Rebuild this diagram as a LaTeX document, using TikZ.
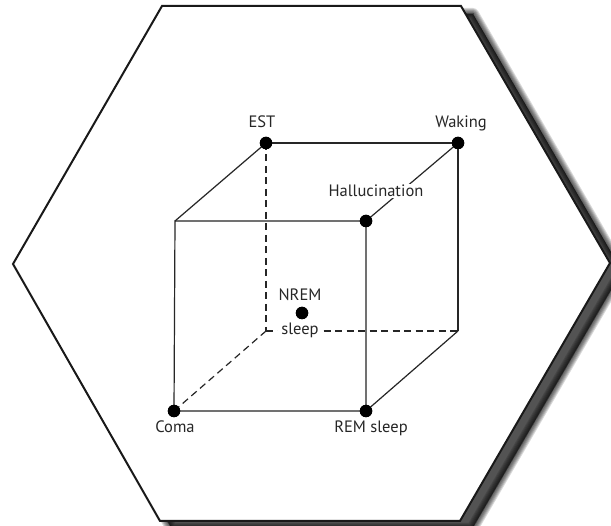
\documentclass[tikz,border=0pt]{standalone}
\usepackage{fontspec}
\setmainfont{PT Sans}
\begin{document}
\begin{tikzpicture}[x=1pt,y=-1pt,
  edge/.style={draw=black!85, line width=1.2pt},
  hidden/.style={edge, dash pattern=on 7pt off 4.5pt},
  dot/.style={circle, fill=black, inner sep=0pt, minimum size=12.5pt},
  lab/.style={text=black!85, font=\fontsize{16.5}{19}\selectfont, anchor=base, inner sep=1pt}]
\useasboundingbox (0,0) rectangle (611,526);

% hexagon outline
\def\hexpath{(162,6) -- (461,6) -- (610,263) -- (460,521) -- (160,521) -- (13,264) -- cycle}

% soft drop shadow, built from stacked translucent layers
\begin{scope}[shift={(12,8)}]
  \foreach \r in {12,10,...,0}
    \filldraw[black, opacity=0.15, line width=\r pt, line join=round] \hexpath;
\end{scope}

% hexagon frame
\filldraw[fill=white, draw=black!90, line width=2pt, line join=miter] \hexpath;

% cube corners
\coordinate (ftl) at (175,221);
\coordinate (bbr) at (458,331);
\coordinate (bbl) at (266,331);
\node[dot] (est)  at (266,143) {};
\node[dot] (wak)  at (458,143) {};
\node[dot] (hal)  at (366,221) {};
\node[dot] (coma) at (174,411) {};
\node[dot] (rem)  at (366,411) {};
\node[dot] (nrem) at (302,313) {};

% hidden edges
\draw[hidden] (est.center) -- (bbl);
\draw[hidden] (bbl) -- (bbr);
\draw[hidden] (coma.center) -- (bbl);

% visible edges
\draw[edge] (ftl) -- (hal.center) -- (rem.center) -- (coma.center) -- cycle;
\draw[edge] (est.center) -- (wak.center) -- (bbr);
\draw[edge] (ftl) -- (est.center);
\draw[edge] (hal.center) -- (wak.center);
\draw[edge] (rem.center) -- (bbr);

% labels
\node[lab] (lest) at (262,128) {EST};
\node[lab] (lwak) at (461,128) {Waking};
\node[lab, fill=white] (lhal) at (376,197) {Hallucination};
\node[lab] (lnrem) at (300,301) {NREM};
\node[lab, fill=white, inner xsep=3pt] (lsleep) at (300,335) {sleep};
\node[lab] (lcoma) at (175,433) {Coma};
\node[lab] (lrem) at (371,433) {REM sleep};

% dots on top
\foreach \n in {est,wak,hal,coma,rem,nrem}
  \fill (\n) circle (6.2pt);
\end{tikzpicture}
\end{document}
